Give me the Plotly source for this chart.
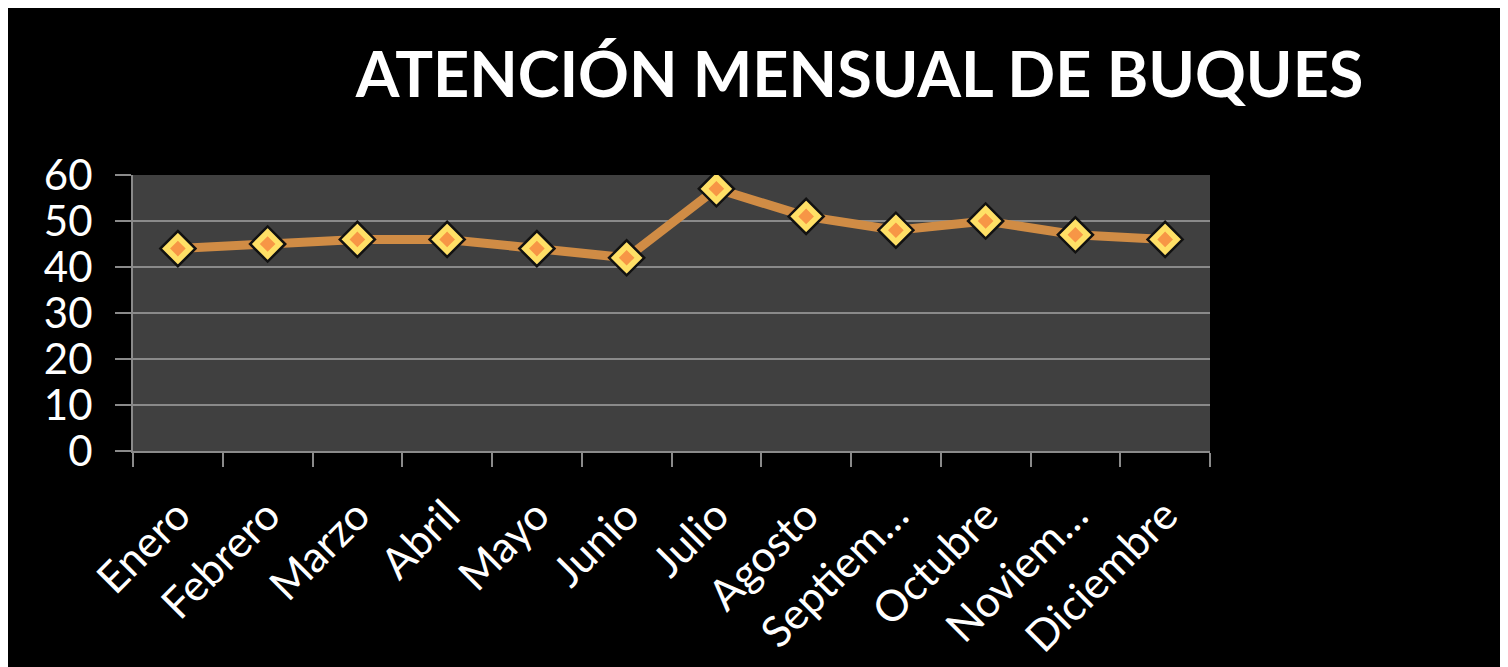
import plotly.graph_objects as go

months = ["Enero", "Febrero", "Marzo", "Abril", "Mayo", "Junio", "Julio",
          "Agosto", "Septiem…", "Octubre", "Noviem…", "Diciembre"]
values = [44, 45, 46, 46, 44, 42, 57, 51, 48, 50, 47, 46]
y_ticks = [0, 10, 20, 30, 40, 50, 60]

fig = go.Figure()
fig.add_trace(go.Scatter(
    x=months, y=values, mode="lines+markers",
    line=dict(color="#D08C45", width=9),
    marker=dict(symbol="diamond", size=27, color="#FFE066",
                line=dict(color="#111111", width=2.5)),
    hoverinfo="x+y", showlegend=False,
))
fig.add_trace(go.Scatter(
    x=months, y=values, mode="markers",
    marker=dict(symbol="diamond", size=12, color="#F79646"),
    hoverinfo="skip", showlegend=False,
))

fig.update_layout(
    width=1502, height=659,
    paper_bgcolor="#000000", plot_bgcolor="#404040",
    margin=dict(l=125, r=300, t=167, b=216),
    font=dict(family="Lato, 'Open Sans', sans-serif", color="#FFFFFF"),
    title=dict(text="<b>ATENCIÓN MENSUAL DE BUQUES</b>",
               x=0.567, xanchor="center", y=0.898, yanchor="middle",
               xref="container", yref="container",
               font=dict(size=63, color="#FFFFFF",
                         family="Lato, 'Open Sans', sans-serif")),
)
fig.update_xaxes(
    type="category", tickangle=-45, tickson="boundaries",
    ticks="outside", ticklen=14, tickwidth=1.5, tickcolor="#8A8A8A",
    showline=True, linecolor="#8A8A8A", linewidth=2,
    showgrid=False, zeroline=False, automargin=False,
    tickfont=dict(size=43, color="#FFFFFF"),
    ticklabelstandoff=20,
    range=[-0.5, len(months) - 0.5],
)
fig.update_yaxes(
    range=[0, 60], tickvals=y_ticks,
    ticks="outside", ticklen=16, tickwidth=1.5, tickcolor="#8A8A8A",
    showline=True, linecolor="#8A8A8A", linewidth=2,
    showgrid=True, gridcolor="#8A8A8A", gridwidth=1.5,
    zeroline=False, automargin=False,
    tickfont=dict(size=42, color="#FFFFFF"),
    ticklabelstandoff=14,
)

fig.write_html("out.html")
